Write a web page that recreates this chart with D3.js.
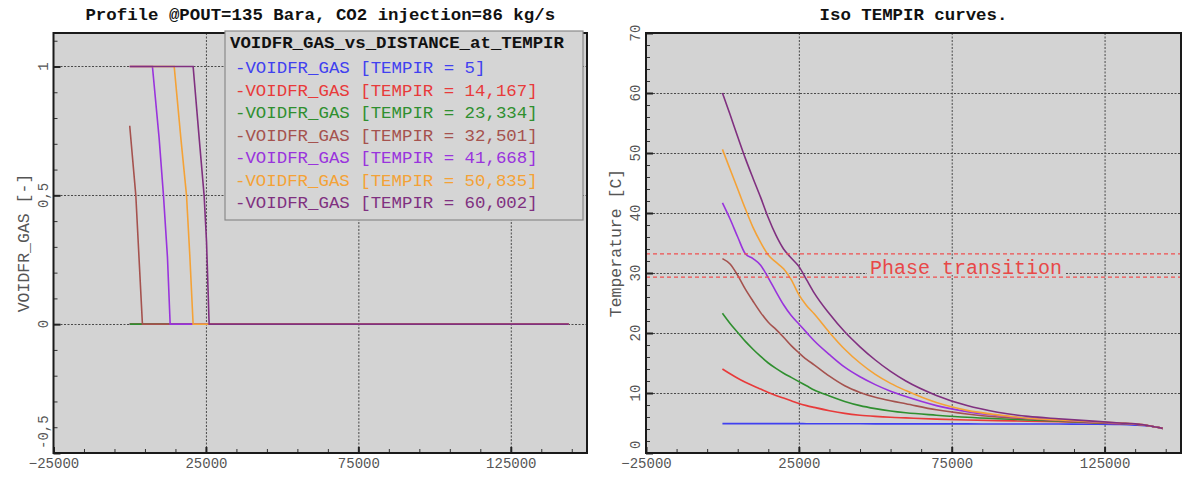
<!DOCTYPE html>
<html><head><meta charset="utf-8">
<script src="https://cdn.jsdelivr.net/npm/d3@7/dist/d3.min.js"></script>
<style>
body{margin:0;background:#fff}
svg{display:block}
text{font-family:"Liberation Mono","Courier New",monospace}
</style>
</head><body>
<svg id="c" width="1184" height="480"></svg>
<script>
// ---------------- DATA ----------------
const seriesNames = ["TEMPIR = 5","TEMPIR = 14,167","TEMPIR = 23,334","TEMPIR = 32,501","TEMPIR = 41,668","TEMPIR = 50,835","TEMPIR = 60,002"];
const seriesColors = ["#4040f0","#e83a3a","#2f8f2f","#a5524e","#9933dd","#f4a236","#803080"];

// Left chart: VOIDFR_GAS vs distance (one array per series)
const voidDist = [
  [0,144000],
  [0,144000],
  [0,144000],
  [0,2000,4170,144000],
  [0,7450,9660,11070,12380,13270,144000],
  [0,14590,16790,18630,19740,20800,144000],
  [0,20800,22800,24400,25200,26050,144000]
];
const voidVal = [
  [0,0],
  [0,0],
  [0,0],
  [0.77,0.5,0,0],
  [1,1,0.72,0.5,0.26,0,0],
  [1,1,0.72,0.5,0.26,0,0],
  [1,1,0.72,0.5,0.32,0,0]
];

// Right chart: temperature vs distance
const tempDist = [0,2500,5000,7500,10000,12500,15000,17500,20000,22500,25000,27500,30000,35000,40000,45000,50000,55000,60000,70000,80000,90000,100000,110000,120000,130000,135000,140000,144000];
const temp5     = [4.9,4.9,4.9,4.9,4.9,4.9,4.9,4.9,4.9,4.9,4.9,4.88,4.88,4.88,4.87,4.87,4.86,4.86,4.85,4.85,4.85,4.84,4.84,4.83,4.8,4.75,4.65,4.45,4.1];
const temp14    = [14.0,13.2,12.45,11.8,11.2,10.65,10.1,9.6,9.15,8.7,8.25,7.9,7.6,7.05,6.6,6.3,6.1,5.95,5.85,5.65,5.5,5.4,5.3,5.2,5.05,4.9,4.8,4.5,4.1];
const temp23    = [23.3,21.6,20.1,18.6,17.3,16.1,15.0,14.1,13.3,12.6,11.9,11.2,10.5,9.5,8.6,7.9,7.4,7.0,6.7,6.3,5.95,5.7,5.5,5.3,5.1,4.95,4.8,4.5,4.1];
const temp32    = [32.4,31.5,29.6,27.3,25.3,23.4,21.8,20.6,19.3,17.9,16.7,15.6,14.7,12.8,11.2,10.1,9.3,8.7,8.2,7.2,6.5,6.0,5.7,5.4,5.15,4.95,4.8,4.5,4.1];
const temp41    = [41.7,39.0,36.0,33.2,32.4,31.3,29.2,26.9,24.7,22.9,21.5,20.1,18.7,16.4,14.3,12.7,11.4,10.3,9.4,7.9,6.9,6.25,5.8,5.5,5.2,4.95,4.8,4.5,4.1];
const temp50    = [50.6,47.3,44.0,40.7,37.6,35.1,33.0,31.8,30.7,28.9,26.4,24.6,23.2,20.1,17.3,15.0,13.1,11.6,10.4,8.4,7.1,6.35,5.8,5.5,5.25,5.0,4.85,4.5,4.1];
const temp60    = [60,56.4,52.7,49.1,45.8,42.6,39.2,36.3,34.0,32.5,31.1,28.9,26.7,23.2,20.2,17.7,15.5,13.6,12.0,9.6,7.9,6.8,6.1,5.7,5.35,5.0,4.85,4.5,4.1];
const tempSeries = [temp5,temp14,temp23,temp32,temp41,temp50,temp60];

const xMajorTicks = [-25000,25000,75000,125000];
const xMinorTicks = [-15000,-5000,5000,15000,35000,45000,55000,65000,85000,95000,105000,115000,135000,145000];
const voidMajorTicks = [-0.5,0,0.5,1];
const voidTickLabels = ["-0,5","0","0,5","1"];
const tempMajorTicks = [0,10,20,30,40,50,60,70];
const tempTickLabels = ["0","10","20","30","40","50","60","70"];
const phaseBand = [29.3,33.2];

// ---------------- DRAW ----------------
const svg = d3.select("#c");
const PT = 33, PB = 453;

function panel(o){
  const g = svg.append("g");
  const x = d3.scaleLinear().domain([-25000,150000]).range([o.x0,o.x1]);
  const y = d3.scaleLinear().domain(o.yDomain).range([PB,PT]);
  g.append("rect").attr("x",o.x0).attr("y",PT).attr("width",o.x1-o.x0).attr("height",PB-PT).attr("fill","#d3d3d3");
  const grid = g.append("g").attr("stroke","#4a4a4a").attr("stroke-width",1).attr("stroke-dasharray","2,1.5");
  grid.selectAll("line.gx").data(xMajorTicks.filter(v=>v>-25000)).join("line").attr("class","gx")
    .attr("x1",d=>x(d)+0.5).attr("x2",d=>x(d)+0.5).attr("y1",PT).attr("y2",PB);
  grid.selectAll("line.gy").data(o.yMajor.filter(v=>y(v)>PT+1 && y(v)<PB-1)).join("line").attr("class","gy")
    .attr("y1",d=>Math.round(y(d))+0.5).attr("y2",d=>Math.round(y(d))+0.5).attr("x1",o.x0).attr("x2",o.x1);
  const axB = g.append("g").attr("transform",`translate(0,${PB})`)
    .call(d3.axisBottom(x).tickValues(xMajorTicks).tickSizeInner(-6).tickSizeOuter(0).tickPadding(5).tickFormat(d3.format("d")));
  axB.selectAll("text").attr("font-size",14).attr("fill","#555").attr("font-family","'Liberation Mono',monospace");
  axB.selectAll("line").attr("stroke","#222").attr("stroke-width",2);
  axB.select(".domain").remove();
  const axBm = g.append("g").attr("transform",`translate(0,${PB})`)
    .call(d3.axisBottom(x).tickValues(xMinorTicks).tickSizeInner(-4).tickSizeOuter(0).tickFormat(""));
  axBm.selectAll("line").attr("stroke","#333");
  axBm.select(".domain").remove();
  const axL = g.append("g").attr("transform",`translate(${o.x0},0)`)
    .call(d3.axisLeft(y).tickValues(o.yMajor).tickSizeInner(-7).tickSizeOuter(0).tickFormat(""));
  axL.selectAll("line").attr("stroke","#222").attr("stroke-width",2);
  axL.select(".domain").remove();
  const axLm = g.append("g").attr("transform",`translate(${o.x0},0)`)
    .call(d3.axisLeft(y).tickValues(o.yMinor).tickSizeInner(-4).tickSizeOuter(0).tickFormat(""));
  axLm.selectAll("line").attr("stroke","#333");
  axLm.select(".domain").remove();
  const yl = g.append("g");
  o.yMajor.forEach((v,i)=>{
    const t = yl.append("text").attr("font-size",14).attr("fill","#555")
      .attr("text-anchor","middle").text(o.yLabels[i]);
    const w = t.node().getComputedTextLength();
    let cy = y(v);
    if (cy + w/2 > PB - 4) cy = PB - 4 - w/2;
    t.attr("transform",`translate(${o.x0-6},${cy}) rotate(-90)`);
  });
  g.append("text").attr("font-size",16.5).attr("fill","#555").attr("text-anchor","middle")
    .attr("transform",`translate(${o.x0-25},${(PT+PB)/2}) rotate(-90)`).text(o.yTitle);
  g.append("text").attr("font-size",17.4).attr("font-weight","bold").attr("fill","#111").attr("text-anchor","middle")
    .attr("x",(o.x0+o.x1)/2).attr("y",20).text(o.title);
  const id = "clip"+o.id;
  svg.append("clipPath").attr("id",id).append("rect").attr("x",o.x0).attr("y",PT).attr("width",o.x1-o.x0).attr("height",PB-PT);
  const plot = g.append("g").attr("clip-path",`url(#${id})`);
  const frame = ()=> g.append("rect").attr("x",o.x0).attr("y",PT).attr("width",o.x1-o.x0).attr("height",PB-PT)
    .attr("fill","none").attr("stroke","#1a1a1a").attr("stroke-width",2);
  return {g,x,y,plot,frame};
}

// ---- Left panel ----
const L = panel({id:"L",x0:53.5,x1:587,yDomain:[-0.5,1.13],yMajor:voidMajorTicks,yLabels:voidTickLabels,
  yMinor:d3.range(-4,12).map(k=>k/10).filter(v=>Math.abs(v*2-Math.round(v*2))>1e-9),
  yTitle:"VOIDFR_GAS [-]",title:"Profile @POUT=135 Bara, CO2 injection=86 kg/s"});
const lineL = d3.line().x(d=>L.x(d[0])).y(d=>L.y(d[1]));
voidDist.forEach((xs,i)=>{
  L.plot.append("path").attr("d",lineL(xs.map((d,j)=>[d,voidVal[i][j]])))
    .attr("fill","none").attr("stroke",seriesColors[i]).attr("stroke-width",1.6);
});
L.frame();
const lg = L.g.append("g");
lg.append("rect").attr("x",225).attr("y",31).attr("width",358).attr("height",189)
  .attr("fill","#d5d5d5").attr("stroke","#8a8a8a").attr("stroke-width",1.2);
lg.append("text").attr("x",230).attr("y",48).attr("font-size",17.4).attr("font-weight","bold").attr("fill","#111")
  .text("VOIDFR_GAS_vs_DISTANCE_at_TEMPIR");
seriesNames.forEach((n,i)=>{
  lg.append("text").attr("x",235).attr("y",73+22.5*i).attr("font-size",17.4).attr("fill",seriesColors[i])
    .attr("xml:space","preserve").text(`-VOIDFR_GAS [${n}]`);
});

// ---- Right panel ----
const R = panel({id:"R",x0:646,x1:1181,yDomain:[0,70],yMajor:tempMajorTicks,yLabels:tempTickLabels,
  yMinor:d3.range(0,71,2).filter(v=>v%10!==0),
  yTitle:"Temperature [C]",title:"Iso TEMPIR curves."});
const ph = R.g.append("g");
const phText = ph.append("text").attr("x",870).attr("y",274).attr("font-size",20).attr("fill","#e84848").text("Phase transition");
const bb = phText.node().getBBox();
ph.insert("rect","text").attr("x",bb.x-3).attr("y",259).attr("width",bb.width+6).attr("height",16).attr("fill","#d3d3d3");
ph.selectAll("line").data(phaseBand).join("line")
  .attr("x1",646).attr("x2",1181).attr("y1",d=>R.y(d)).attr("y2",d=>R.y(d))
  .attr("stroke","#f05050").attr("stroke-width",1.2).attr("stroke-dasharray","4,3");
const lineR = d3.line().x(d=>R.x(d[0])).y(d=>R.y(d[1])).curve(d3.curveMonotoneX);
tempSeries.forEach((s,i)=>{
  R.plot.append("path").attr("d",lineR(tempDist.map((d,j)=>[d,s[j]])))
    .attr("fill","none").attr("stroke",seriesColors[i]).attr("stroke-width",1.6);
});
R.frame();
</script>
</body></html>
